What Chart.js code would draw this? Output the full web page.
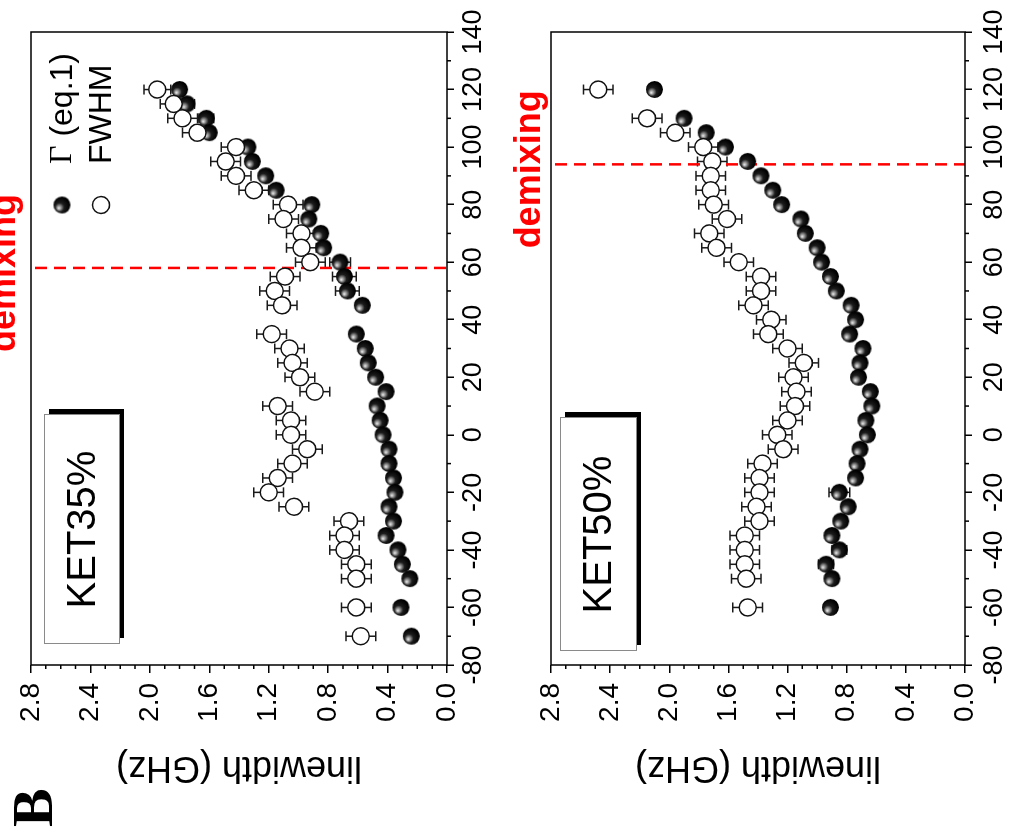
<!DOCTYPE html>
<html>
<head>
<meta charset="utf-8">
<script src="https://cdn.jsdelivr.net/npm/chart.js@4.4.1/dist/chart.umd.min.js"></script>
<style>
  html, body { margin: 0; padding: 0; background: #fff; overflow: hidden; }
  /* The figure is laid out upright (834 x 1010) and turned a quarter turn
     counter-clockwise so it fills the 1010 x 834 window. */
  #page {
    position: absolute; left: 0; top: 0;
    width: 834px; height: 1010px;
    transform-origin: 0 0;
    transform: translate(0, 834px) rotate(-90deg);
    background: #fff;
  }
  #page canvas { position: absolute; left: 0; }
  #c35 { top: 0; }
  #c50 { top: 505px; }
</style>
</head>
<body>
<div id="page">
  <canvas id="c35" width="834" height="505"></canvas>
  <canvas id="c50" width="834" height="505"></canvas>
</div>
<script>
// ---------- data: KET35% ----------
const temps35 = [120,115,110,105,100,95,90,85,80,75,70,65,60,55,50,45,35,30,25,20,15,10,5,0,-5,-10,-15,-20,-25,-30,-35,-40,-45,-50,-60,-70];
const gamma35 = [1.80,1.75,1.62,1.60,1.34,1.31,1.22,1.15,0.91,0.93,0.85,0.83,0.72,0.69,0.67,0.57,0.61,0.55,0.53,0.48,0.41,0.47,0.45,0.43,0.39,0.39,0.36,0.35,0.39,0.36,0.41,0.33,0.30,0.25,0.31,0.24];
const gammaErr35 = [0.04,0.05,0.05,0.04,0.04,0.04,0.04,0.04,0.04,0.04,0.04,0.04,0.07,0.08,0.08,0.04,0.04,0.04,0.04,0.04,0.04,0.04,0.04,0.04,0.04,0.04,0.04,0.04,0.04,0.04,0.04,0.04,0.04,0.04,0.04,0.04];
const fwhm35 = [1.95,1.84,1.78,1.68,1.42,1.49,1.42,1.30,1.07,1.10,0.98,0.98,0.92,1.09,1.16,1.11,1.18,1.06,1.04,0.99,0.89,1.14,1.05,1.05,0.94,1.04,1.14,1.20,1.03,0.66,0.69,0.69,0.61,0.61,0.61,0.58];
const fwhmErr35 = [0.09,0.09,0.10,0.10,0.10,0.10,0.10,0.10,0.10,0.10,0.10,0.10,0.10,0.10,0.10,0.10,0.10,0.10,0.10,0.10,0.10,0.10,0.10,0.10,0.10,0.10,0.10,0.10,0.10,0.10,0.10,0.10,0.10,0.10,0.10,0.10];
const demix35 = 58;

// ---------- data: KET50% ----------
const temps50 = [120,110,105,100,95,90,85,80,75,70,65,60,55,50,45,40,35,30,25,20,15,10,5,0,-5,-10,-15,-20,-25,-30,-35,-40,-45,-50,-60];
const gamma50 = [2.10,1.90,1.75,1.62,1.47,1.38,1.30,1.24,1.11,1.08,1.00,0.97,0.91,0.87,0.77,0.74,0.78,0.69,0.71,0.72,0.64,0.63,0.67,0.66,0.71,0.73,0.74,0.85,0.79,0.84,0.90,0.85,0.94,0.90,0.91];
const gammaErr50 = [0.04,0.04,0.04,0.04,0.04,0.04,0.04,0.04,0.04,0.04,0.04,0.04,0.04,0.04,0.04,0.04,0.04,0.04,0.04,0.04,0.04,0.04,0.04,0.04,0.04,0.04,0.04,0.07,0.04,0.04,0.04,0.05,0.05,0.04,0.04];
const fwhm50 = [2.48,2.15,1.96,1.77,1.71,1.72,1.72,1.70,1.61,1.73,1.68,1.53,1.38,1.38,1.43,1.31,1.33,1.20,1.09,1.16,1.14,1.15,1.20,1.27,1.23,1.37,1.39,1.39,1.41,1.39,1.49,1.49,1.49,1.48,1.47];
const fwhmErr50 = [0.10,0.10,0.10,0.10,0.10,0.10,0.10,0.10,0.10,0.10,0.10,0.10,0.10,0.10,0.10,0.10,0.10,0.10,0.10,0.10,0.10,0.10,0.10,0.10,0.10,0.10,0.10,0.10,0.10,0.10,0.10,0.10,0.10,0.10,0.10];
const demix50 = 94;

// ---------- axes ----------
const tempRange = [-80, 140];
const tempStep = 20, tempMinorStep = 10;
const widthRange = [0, 2.8];
const widthStep = 0.4, widthMinorStep = 0.1;

const SANS = "'Liberation Sans', Arial, Helvetica, sans-serif";
const SERIF = "'Liberation Serif', 'Times New Roman', serif";
const R = 8.5;

// shaded black sphere used for the Γ markers
function makeSphere(r) {
  const s = Math.ceil(r * 2) + 2;
  const c = document.createElement('canvas');
  c.width = s; c.height = s;
  const g = c.getContext('2d');
  const cx = s / 2, cy = s / 2;
  const grad = g.createRadialGradient(cx - r * 0.4, cy - r * 0.4, 0, cx - r * 0.15, cy - r * 0.15, r * 1.05);
  grad.addColorStop(0, '#f4f4f4');
  grad.addColorStop(0.2, '#a0a0a0');
  grad.addColorStop(0.5, '#1c1c1c');
  grad.addColorStop(1, '#000');
  g.fillStyle = grad;
  g.beginPath(); g.arc(cx, cy, r, 0, Math.PI * 2); g.fill();
  return c;
}
const sphere = makeSphere(R);

// vertical error bars with caps, drawn under the markers
const errorBarPlugin = {
  id: 'errorBars',
  beforeDatasetsDraw(chart) {
    const { ctx, scales: { x, y } } = chart;
    ctx.save();
    ctx.strokeStyle = '#1a1a1a';
    ctx.lineWidth = 1.5;
    chart.data.datasets.forEach(ds => {
      if (!ds.errorBars) return;
      ds.data.forEach((p, i) => {
        const e = ds.errorBars[i];
        const px = x.getPixelForValue(p.x);
        const y1 = y.getPixelForValue(p.y - e);
        const y2 = y.getPixelForValue(p.y + e);
        ctx.beginPath();
        ctx.moveTo(px, y1); ctx.lineTo(px, y2);
        ctx.moveTo(px - 5, y1); ctx.lineTo(px + 5, y1);
        ctx.moveTo(px - 5, y2); ctx.lineTo(px + 5, y2);
        ctx.stroke();
      });
    });
    ctx.restore();
  }
};

// frame, minor ticks, demixing marker, sample box, legend
const decoPlugin = {
  id: 'deco',
  beforeDatasetsDraw(chart, args, o) {
    const { ctx, chartArea: a, scales: { x } } = chart;
    // demixing temperature
    const lx = x.getPixelForValue(o.demix);
    ctx.save();
    ctx.strokeStyle = '#ff0000';
    ctx.lineWidth = 2.5;
    ctx.setLineDash([12, 7]);
    ctx.beginPath();
    ctx.moveTo(lx, a.top + 4); ctx.lineTo(lx, a.bottom);
    ctx.stroke();
    ctx.restore();
  },
  afterDraw(chart, args, o) {
    const { ctx, chartArea: a, scales: { x, y } } = chart;
    ctx.save();
    // box around the plot
    ctx.strokeStyle = '#000';
    ctx.lineWidth = 1.5;
    ctx.strokeRect(a.left, a.top, a.right - a.left, a.bottom - a.top);
    // minor ticks
    ctx.beginPath();
    for (let v = tempRange[0]; v <= tempRange[1] + 1e-9; v += tempMinorStep) {
      if (Math.abs(v / tempStep - Math.round(v / tempStep)) < 1e-6) continue;
      const px = x.getPixelForValue(v);
      ctx.moveTo(px, a.bottom); ctx.lineTo(px, a.bottom + 4);
    }
    for (let k = 0; k * widthMinorStep <= widthRange[1] + 1e-9; k++) {
      if (k % 4 === 0) continue;
      const py = y.getPixelForValue(k * widthMinorStep);
      ctx.moveTo(a.left - 4, py); ctx.lineTo(a.left, py);
    }
    ctx.stroke();

    // demixing label
    const lx = x.getPixelForValue(o.demix);
    ctx.fillStyle = '#ff0000';
    ctx.font = 'bold 36px ' + SANS;
    ctx.textAlign = 'center';
    ctx.textBaseline = 'alphabetic';
    ctx.fillText('demixing', lx - 5, a.top - o.labelLift);

    // sample label with drop shadow
    const b = o.box;
    const bx = a.left + b.x, by = a.top + b.y;
    ctx.fillStyle = '#000';
    ctx.fillRect(bx + 6, by + 5, b.w, b.h);
    ctx.fillStyle = '#fff';
    ctx.fillRect(bx, by, b.w, b.h);
    ctx.strokeStyle = '#8a8a8a';
    ctx.lineWidth = 1;
    ctx.strokeRect(bx + 0.5, by + 0.5, b.w, b.h);
    ctx.fillStyle = '#000';
    ctx.font = '40px ' + SANS;
    ctx.textAlign = 'center';
    ctx.textBaseline = 'middle';
    ctx.fillText(o.sample, bx + b.w / 2, by + b.h / 2 + 2);

    // legend
    if (o.legend) {
      const mx = a.right - 173;
      const rows = [
        { y: a.top + 31, ds: chart.data.datasets[1] },
        { y: a.top + 70, ds: chart.data.datasets[0] }
      ];
      rows.forEach(r => {
        if (r.ds.pointStyle === sphere) {
          ctx.drawImage(sphere, mx - sphere.width / 2, r.y - sphere.height / 2);
        } else {
          ctx.beginPath();
          ctx.arc(mx, r.y, R, 0, Math.PI * 2);
          ctx.fillStyle = '#fff'; ctx.fill();
          ctx.strokeStyle = '#111'; ctx.lineWidth = 1.5; ctx.stroke();
        }
      });
      ctx.fillStyle = '#000';
      ctx.textAlign = 'left';
      ctx.textBaseline = 'middle';
      let tx = mx + 41;
      ctx.font = '32px ' + SERIF;
      ctx.fillText('Γ', tx, rows[0].y + 1);
      tx += ctx.measureText('Γ').width;
      ctx.font = '32px ' + SANS;
      ctx.fillText(' (eq.1)', tx, rows[0].y + 1);
      ctx.fillText('FWHM', mx + 41, rows[1].y + 1);
    }

    // panel letter
    if (o.letter) {
      ctx.fillStyle = '#000';
      ctx.font = 'bold 58px ' + SERIF;
      ctx.textAlign = 'left';
      ctx.textBaseline = 'alphabetic';
      ctx.fillText(o.letter, 7, 52);
    }
    ctx.restore();
  }
};

function makePanel(id, temps, gamma, gammaErr, fwhm, fwhmErr, deco, layout) {
  return new Chart(document.getElementById(id), {
    type: 'scatter',
    data: {
      datasets: [
        {
          label: 'FWHM',
          data: temps.map((t, i) => ({ x: t, y: fwhm[i] })),
          errorBars: fwhmErr,
          pointStyle: 'circle',
          pointRadius: R,
          backgroundColor: '#fff',
          borderColor: '#111',
          borderWidth: 1.5,
          order: 1
        },
        {
          label: 'Γ (eq.1)',
          data: temps.map((t, i) => ({ x: t, y: gamma[i] })),
          errorBars: gammaErr,
          pointStyle: sphere,
          pointRadius: R,
          order: 2
        }
      ]
    },
    options: {
      responsive: false,
      animation: false,
      devicePixelRatio: 1,
      events: [],
      layout: { padding: { top: layout.top, right: 32, left: 0, bottom: 0 } },
      plugins: {
        legend: { display: false },
        tooltip: { enabled: false },
        deco: deco
      },
      scales: {
        x: {
          type: 'linear',
          position: 'bottom',
          min: tempRange[0], max: tempRange[1],
          ticks: {
            stepSize: tempStep,
            color: '#000',
            font: { family: SANS, size: 27 },
            padding: layout.xPad,
            maxRotation: 0,
            autoSkip: false
          },
          grid: { display: true, drawOnChartArea: false, drawTicks: true, tickLength: 7, color: '#000', lineWidth: 1.5 },
          border: { display: false },
          afterFit: s => { s.height = layout.xH; }
        },
        y: {
          type: 'linear',
          position: 'left',
          min: widthRange[0], max: widthRange[1],
          ticks: {
            stepSize: widthStep,
            color: '#000',
            font: { family: SANS, size: 28 },
            padding: 10,
            autoSkip: false,
            callback: v => Number(v).toFixed(1)
          },
          grid: { display: true, drawOnChartArea: false, drawTicks: true, tickLength: 8, color: '#000', lineWidth: 1.5 },
          border: { display: false },
          title: {
            display: true,
            text: 'linewidth (GHz)',
            color: '#000',
            font: { family: SANS, size: 36 },
            padding: { top: 67 - 36 * 1.2 / 2, bottom: 0 }
          },
          afterFit: s => { s.width = 169; }
        }
      }
    },
    plugins: [errorBarPlugin, decoPlugin]
  });
}

makePanel('c35', temps35, gamma35, gammaErr35, fwhm35, fwhmErr35,
  { demix: demix35, labelLift: 15.6, sample: 'KET35%', box: { x: 21, y: 13, w: 229, h: 75 }, legend: true, letter: 'B' },
  { top: 31, xH: 58, xPad: 3 });

makePanel('c50', temps50, gamma50, gammaErr50, fwhm50, fwhmErr50,
  { demix: demix50, labelLift: 11.5, sample: 'KET50%', box: { x: 14, y: 9, w: 233, h: 76 }, legend: false, letter: null },
  { top: 46, xH: 45, xPad: 6 });
</script>
</body>
</html>
